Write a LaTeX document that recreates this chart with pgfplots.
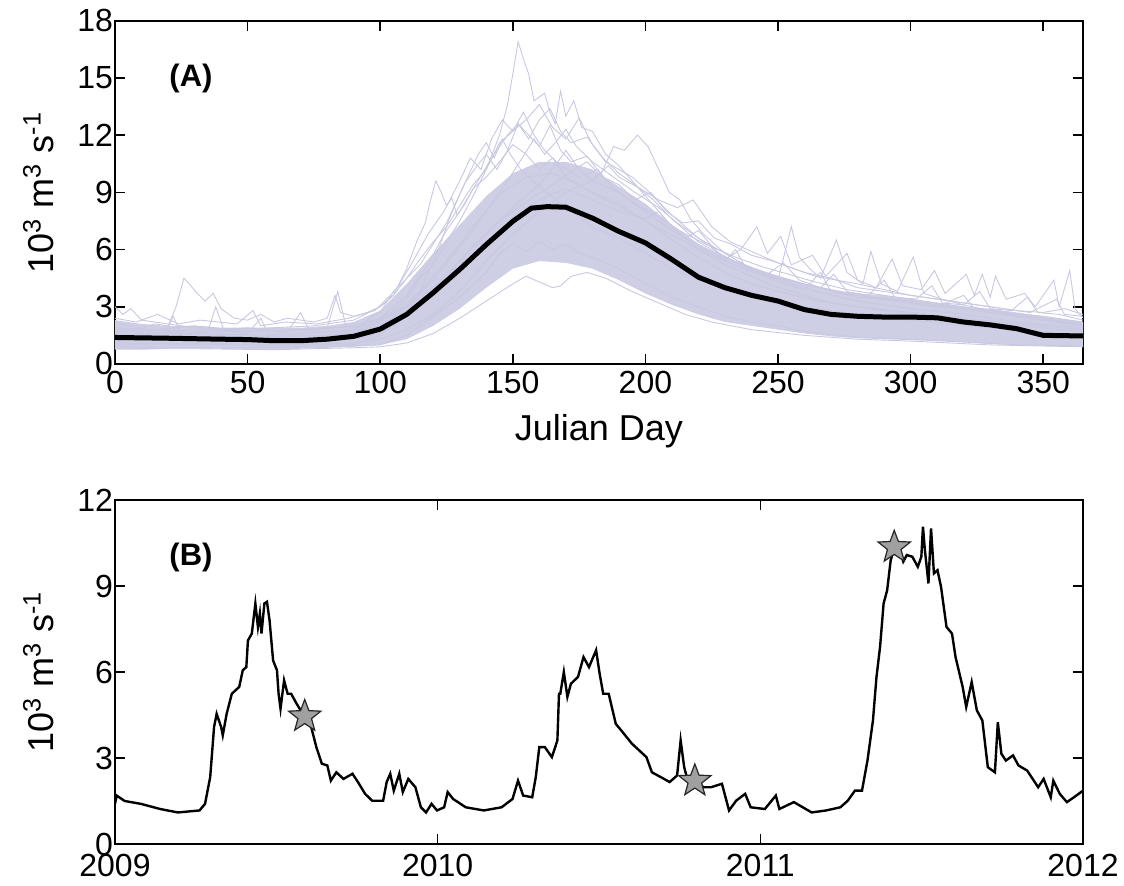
\documentclass[border=0pt]{standalone}
\usepackage{pgfplots}
\pgfplotsset{compat=1.18}
\usepackage{fontspec}
\setmainfont{Liberation Sans}
\definecolor{lav}{RGB}{200,200,226}
\definecolor{lavfill}{RGB}{206,206,229}
\definecolor{stargray}{RGB}{160,160,160}
\newcommand{\tfont}{\fontsize{16}{19}\selectfont}
\newcommand{\lfont}{\fontsize{18}{21}\selectfont}
\pgfdeclareplotmark{fstar}{%
  \pgfpathmoveto{\pgfpointpolar{90}{\pgfplotmarksize}}%
  \pgfpathlineto{\pgfpointpolar{126}{0.42\pgfplotmarksize}}%
  \pgfpathlineto{\pgfpointpolar{162}{\pgfplotmarksize}}%
  \pgfpathlineto{\pgfpointpolar{198}{0.42\pgfplotmarksize}}%
  \pgfpathlineto{\pgfpointpolar{234}{\pgfplotmarksize}}%
  \pgfpathlineto{\pgfpointpolar{270}{0.42\pgfplotmarksize}}%
  \pgfpathlineto{\pgfpointpolar{306}{\pgfplotmarksize}}%
  \pgfpathlineto{\pgfpointpolar{342}{0.42\pgfplotmarksize}}%
  \pgfpathlineto{\pgfpointpolar{18}{\pgfplotmarksize}}%
  \pgfpathlineto{\pgfpointpolar{54}{0.42\pgfplotmarksize}}%
  \pgfpathclose
  \pgfusepathqfillstroke}
\pgfplotsset{
  mystyle/.style={
    scale only axis,
    width=484pt,
    /pgf/number format/assume math mode=true,
    tick label style={font=\tfont},
    label style={font=\lfont},
    axis line style={line width=0.9pt},
    major tick length=5pt,
    tick style={line width=0.8pt,black},
    yticklabel style={xshift=2.5pt},
    ylabel style={at={(axis description cs:-0.064,0.5)},rotate=0,anchor=base},
  },
  lavline/.style={lav,line width=0.45pt,no markers},
}
\begin{document}
\begin{tikzpicture}
\useasboundingbox (0,0) rectangle (562pt,443pt);
% ---------------- Panel A ----------------
\begin{axis}[mystyle,
  at={(57.5pt,261pt)},anchor=south west,
  height=171.65pt,
  xmin=0,xmax=365,ymin=0,ymax=18,
  xtick={0,50,100,150,200,250,300,350},
  ytick={0,3,6,9,12,15,18},
  xlabel={Julian Day},
  xlabel style={at={(axis description cs:0.5,-0.224)},anchor=base},
  ylabel={10\textsuperscript{3} m\textsuperscript{3} s\textsuperscript{-1}},
]
% dense ensemble band
\addplot[draw=none,fill=lavfill] coordinates {
(0,0.75)(10,0.75)(20,0.8)(30,0.8)(40,0.8)(50,0.75)(60,0.75)(70,0.8)(80,0.85)(90,0.9)
(100,1.0)(110,1.3)(120,2.0)(130,2.9)(140,4.0)(150,5.0)(160,5.4)(170,5.3)(180,5.0)(190,4.4)
(200,3.7)(210,3.1)(220,2.6)(230,2.2)(240,2.0)(250,1.8)(260,1.6)(270,1.45)(280,1.35)(290,1.3)
(300,1.25)(310,1.2)(320,1.15)(330,1.05)(340,1.0)(350,0.95)(365,0.9)
(365,2.2)(350,2.5)(340,2.7)(330,2.9)(320,3.0)(310,3.2)(300,3.4)(290,3.6)(280,3.7)(270,3.9)
(260,4.2)(250,4.6)(240,5.1)(230,5.6)(220,6.3)(210,7.3)(200,8.4)(190,9.3)(180,10.2)(170,10.6)
(160,10.6)(150,10.0)(140,8.8)(130,7.3)(120,5.8)(110,4.2)(100,2.8)(90,2.2)(80,2.0)(70,1.9)
(60,1.9)(50,1.9)(40,1.9)(30,2.0)(20,2.0)(10,2.1)(0,2.3)} \closedcycle;
% individual years
\addplot[lavline] coordinates {(0,1.6)(10,1.5)(20,1.7)(30,1.4)(40,1.5)(50,1.3)(60,1.4)(70,1.3)(80,1.5)(90,1.6)(100,2.2)(105,2.8)(110,3.4)(115,4.5)(120,5.2)(125,6.4)(130,7.5)(135,8.8)(140,10.2)(145,12.0)(148,13.6)(150,15.2)(152,16.9)(154,16.0)(156,15.2)(158,13.8)(160,14.0)(162,14.2)(164,13.2)(166,12.6)(168,14.3)(170,13.0)(173,13.8)(176,12.4)(180,12.2)(185,11.0)(190,10.4)(195,9.6)(200,8.8)(210,7.2)(220,6.0)(230,5.2)(240,4.6)(250,4.0)(260,3.6)(270,3.2)(280,3.0)(300,2.7)(320,2.4)(340,2.1)(365,1.8)};
\addplot[lavline] coordinates {(0,1.9)(15,1.8)(30,2.0)(45,1.8)(60,1.9)(75,2.0)(90,2.3)(100,3.0)(105,3.6)(110,5.0)(114,6.5)(117,7.4)(119,8.6)(121,9.6)(123,9.0)(125,8.3)(127,8.7)(129,7.8)(132,8.4)(135,9.2)(140,9.8)(145,10.6)(150,11.5)(155,11.0)(160,10.2)(165,10.8)(170,9.8)(180,9.0)(190,8.4)(200,7.5)(210,6.5)(220,5.6)(230,4.8)(240,4.2)(250,3.8)(265,3.3)(280,3.0)(300,2.6)(320,2.3)(340,2.0)(365,1.7)};
\addplot[lavline] coordinates {(0,2.2)(5,2.0)(10,1.9)(15,2.1)(20,2.0)(23,3.0)(26,4.5)(28,4.2)(31,3.7)(34,3.3)(37,3.7)(40,2.9)(45,2.4)(50,2.3)(55,2.6)(60,2.2)(65,2.4)(70,2.3)(75,2.2)(80,2.4)(83,3.6)(85,2.7)(90,2.5)(95,2.7)(100,3.0)(105,3.6)(110,4.5)(115,5.5)(120,6.4)(125,7.2)(130,8.3)(135,9.4)(140,10.2)(145,11.6)(150,12.2)(155,12.8)(160,13.6)(165,12.4)(170,11.8)(175,12.9)(180,11.5)(185,10.6)(190,10.2)(195,9.8)(200,9.2)(210,7.8)(220,6.6)(230,5.8)(240,5.0)(250,4.6)(260,4.2)(270,3.9)(280,3.6)(300,3.3)(320,2.9)(340,2.5)(365,2.1)};
\addplot[lavline] coordinates {(0,1.2)(20,1.3)(40,1.2)(60,1.1)(80,1.2)(95,1.4)(105,2.0)(115,3.2)(125,4.5)(135,6.2)(145,7.5)(155,8.5)(165,9.4)(172,10.1)(178,10.6)(183,9.9)(188,11.4)(192,11.2)(197,12.0)(201,11.4)(205,10.2)(209,9.0)(213,8.6)(217,7.6)(222,6.8)(230,5.8)(240,5.0)(250,4.4)(255,7.2)(258,5.6)(262,5.0)(266,4.5)(272,6.5)(276,4.8)(282,4.2)(285,5.9)(289,4.2)(295,3.8)(301,5.6)(305,3.7)(312,3.4)(320,3.1)(330,2.8)(340,2.5)(350,2.3)(365,2.0)};
\addplot[lavline] coordinates {(0,1.0)(30,1.1)(60,1.0)(90,1.1)(100,1.3)(110,1.8)(120,2.6)(130,3.8)(140,5.4)(150,6.8)(160,8.0)(170,9.0)(180,9.6)(190,9.0)(200,8.0)(210,7.0)(220,6.2)(230,5.5)(236,6.0)(242,7.2)(246,5.8)(251,6.7)(255,5.2)(263,5.7)(268,4.6)(276,5.8)(280,4.4)(287,4.0)(293,5.5)(297,4.1)(304,3.9)(309,4.9)(313,3.7)(321,4.7)(324,3.6)(327,4.7)(330,3.5)(332,4.6)(336,3.4)(343,3.7)(347,3.0)(354,4.4)(356,3.0)(360,4.9)(362,2.9)(365,2.4)};
\addplot[lavline] coordinates {(0,0.8)(30,0.8)(60,0.75)(90,0.85)(100,0.9)(110,1.1)(120,1.6)(130,2.4)(140,3.3)(150,4.2)(155,4.6)(160,4.3)(165,4.0)(168,4.1)(172,4.6)(178,4.8)(185,4.5)(195,3.8)(205,3.2)(215,2.6)(225,2.2)(240,1.8)(260,1.5)(280,1.3)(300,1.2)(330,1.0)(365,0.9)};
\addplot[lavline] coordinates {(0,1.4)(10,1.6)(18,1.3)(22,2.5)(25,1.5)(35,1.7)(38,3.0)(41,1.8)(50,1.6)(55,2.4)(58,1.5)(65,1.7)(70,2.7)(73,1.8)(80,1.9)(84,3.8)(87,2.0)(92,1.9)(96,2.4)(100,2.7)(105,3.8)(110,4.5)(115,5.2)(120,6.3)(125,7.4)(128,8.3)(132,9.5)(136,10.3)(140,11.0)(144,10.2)(148,11.2)(152,12.6)(156,12.0)(160,11.4)(164,12.5)(168,11.2)(172,10.6)(178,10.9)(184,9.8)(190,9.4)(196,8.6)(202,9.0)(208,8.0)(214,7.4)(220,7.5)(226,6.6)(232,6.3)(240,5.7)(248,5.4)(256,5.0)(264,4.6)(272,4.4)(280,4.2)(290,3.9)(300,3.6)(310,3.4)(320,3.2)(330,3.0)(340,2.8)(350,2.7)(358,2.9)(365,2.6)};
\addplot[lavline] coordinates {(0,1.1)(50,1.0)(90,1.0)(100,1.5)(108,2.4)(114,3.5)(118,4.8)(122,6.0)(126,7.6)(130,8.9)(134,10.1)(137,11.0)(140,11.6)(143,10.8)(146,11.8)(149,11.0)(153,10.2)(158,9.5)(163,9.0)(170,8.2)(180,7.2)(190,6.6)(200,5.8)(210,5.0)(220,4.4)(230,4.0)(245,3.5)(260,3.0)(280,2.6)(300,2.3)(320,2.0)(340,1.8)(365,1.5)};
\addplot[lavline] coordinates {(0,3.0)(3,2.6)(6,2.9)(10,2.3)(15,2.2)(20,2.1)(30,1.9)(40,1.8)(50,1.9)(60,1.7)(75,1.8)(90,2.0)(100,2.4)(110,3.0)(120,4.0)(130,5.4)(140,6.8)(150,8.2)(160,9.4)(166,10.4)(170,11.2)(175,10.2)(180,9.6)(186,10.4)(190,9.8)(198,9.2)(205,8.6)(212,8.2)(218,8.6)(225,7.2)(232,6.4)(240,5.9)(250,5.3)(260,4.8)(270,4.5)(280,4.0)(290,3.8)(300,3.6)(315,3.3)(330,3.0)(345,2.7)(355,3.4)(358,2.6)(365,2.5)};
\addplot[lavline] coordinates {(0,0.9)(40,0.85)(80,0.9)(100,1.0)(110,1.5)(120,2.5)(130,3.5)(140,4.8)(145,5.8)(150,6.3)(155,5.9)(160,6.4)(165,6.0)(170,6.3)(175,5.8)(180,5.6)(190,5.0)(200,4.2)(210,3.5)(220,3.0)(230,2.5)(240,2.2)(250,2.0)(260,1.7)(280,1.4)(300,1.3)(320,1.15)(340,1.0)(365,0.95)};
\addplot[lavline] coordinates {(0,1.5)(40,1.4)(80,1.5)(100,2.0)(110,2.8)(120,3.8)(130,5.0)(140,6.4)(150,7.6)(160,8.6)(170,9.2)(180,8.6)(190,8.0)(200,7.6)(205,8.0)(210,7.2)(215,6.6)(220,7.0)(225,6.2)(230,5.4)(234,6.0)(238,5.0)(245,4.6)(250,4.3)(260,3.9)(266,4.8)(270,3.8)(280,3.5)(290,3.4)(300,3.2)(310,3.0)(320,3.6)(324,2.9)(330,2.8)(340,2.6)(350,2.4)(365,2.1)};
\addplot[lavline] coordinates {(0,1.7)(30,1.6)(60,1.5)(90,1.8)(100,2.4)(110,3.6)(118,5.2)(124,6.8)(130,8.0)(136,9.4)(142,10.8)(148,12.0)(152,12.6)(156,11.8)(160,12.8)(164,13.4)(168,12.2)(172,11.6)(178,11.9)(184,10.8)(190,10.0)(196,9.4)(203,8.6)(210,7.6)(220,6.4)(230,5.6)(240,5.0)(250,4.5)(262,4.1)(275,3.7)(290,3.4)(305,3.1)(320,2.9)(335,2.6)(350,2.3)(365,2.0)};
\addplot[lavline] coordinates {(0,1.3)(40,1.2)(80,1.3)(100,1.9)(110,3.0)(120,4.4)(128,5.8)(135,7.0)(142,8.4)(148,9.6)(154,10.9)(158,11.8)(162,11.0)(166,11.6)(170,12.3)(174,11.4)(180,10.6)(188,9.8)(196,9.0)(205,8.2)(212,7.4)(220,6.6)(228,5.8)(236,5.2)(245,4.7)(255,4.2)(265,3.8)(280,3.3)(300,2.9)(320,2.6)(340,2.2)(365,1.9)};
\addplot[lavline] coordinates {(0,1.8)(50,1.7)(95,2.0)(105,2.6)(115,3.8)(125,5.4)(135,7.2)(145,8.9)(155,9.8)(165,10.0)(175,9.4)(185,8.6)(195,7.9)(205,7.1)(215,6.4)(225,5.7)(235,5.1)(245,4.6)(252,5.3)(258,4.4)(266,4.0)(271,4.7)(276,3.8)(284,3.6)(290,4.4)(294,3.5)(302,3.4)(308,4.1)(312,3.2)(320,3.1)(326,3.8)(330,2.9)(338,2.8)(344,3.5)(348,2.7)(356,2.6)(365,2.3)};
\addplot[lavline] coordinates {(0,2.4)(8,2.2)(16,2.6)(24,2.1)(32,2.3)(46,2.1)(52,2.8)(55,2.0)(64,2.2)(76,2.1)(88,2.4)(98,2.8)(106,3.9)(112,5.3)(118,6.8)(124,8.0)(130,9.6)(134,10.8)(138,10.2)(142,11.8)(146,12.8)(150,12.2)(154,13.2)(158,12.0)(162,11.2)(168,10.4)(175,9.8)(182,10.2)(188,9.2)(196,8.4)(204,7.8)(214,6.9)(224,6.2)(234,5.6)(244,5.1)(254,4.7)(264,4.3)(276,3.9)(290,3.6)(305,3.3)(320,3.0)(335,2.7)(350,2.5)(365,2.2)};
% mean
\addplot[black,line width=2.5pt,no markers] coordinates {(0,1.39)(20,1.35)(40,1.3)(50,1.28)(60,1.22)(70,1.22)(80,1.3)(90,1.45)(100,1.83)(110,2.6)(120,3.74)(130,4.96)(140,6.26)(150,7.48)(157,8.17)(163,8.25)(170,8.22)(180,7.65)(190,6.95)(200,6.35)(210,5.48)(220,4.55)(230,4.0)(240,3.6)(250,3.3)(260,2.85)(270,2.6)(280,2.5)(290,2.46)(300,2.46)(310,2.42)(320,2.2)(330,2.05)(340,1.85)(350,1.5)(365,1.47)};
\node[font=\fontsize{15.5}{18}\selectfont\bfseries] at (axis description cs:0.0785,0.832) {(A)};
\end{axis}
% ---------------- Panel B ----------------
\begin{axis}[mystyle,
  at={(57.5pt,21pt)},anchor=south west,
  height=172pt,
  xmin=2009,xmax=2012,ymin=0,ymax=12,
  xtick={2009,2010,2011,2012},
  xticklabels={2009,2010,2011,2012},
  xticklabel style={yshift=-1.5pt},
  ytick={0,3,6,9,12},
  ylabel={10\textsuperscript{3} m\textsuperscript{3} s\textsuperscript{-1}},
]
\addplot[black,line width=1.2pt,no markers] coordinates {
(2009.0,1.4)(2009.005,1.69)(2009.03,1.5)(2009.08,1.4)(2009.14,1.22)(2009.195,1.1)(2009.262,1.17)(2009.279,1.4)
(2009.295,2.33)(2009.307,4.08)(2009.315,4.54)(2009.329,4.08)(2009.334,3.79)(2009.346,4.54)(2009.362,5.24)
(2009.385,5.48)(2009.396,6.06)(2009.407,6.17)(2009.412,7.1)(2009.424,7.34)(2009.435,8.39)(2009.443,7.57)
(2009.449,8.04)(2009.454,7.34)(2009.463,8.39)(2009.471,8.45)(2009.479,7.8)(2009.49,6.4)(2009.502,6.06)
(2009.507,5.24)(2009.513,4.72)(2009.524,5.71)(2009.535,5.24)(2009.546,5.24)(2009.563,4.89)(2009.585,4.49)
(2009.608,4.08)(2009.624,3.38)(2009.641,2.8)(2009.658,2.74)(2009.669,2.21)(2009.686,2.5)(2009.708,2.27)
(2009.736,2.45)(2009.753,2.16)(2009.775,1.75)(2009.797,1.51)(2009.831,1.51)(2009.842,2.16)(2009.853,2.45)
(2009.864,1.86)(2009.881,2.45)(2009.892,1.81)(2009.909,2.27)(2009.931,1.98)(2009.948,1.28)(2009.964,1.1)
(2009.981,1.4)(2009.998,1.17)(2010.02,1.28)(2010.031,1.81)(2010.048,1.57)(2010.087,1.28)(2010.143,1.17)
(2010.198,1.28)(2010.232,1.57)(2010.249,2.21)(2010.265,1.69)(2010.293,1.63)(2010.304,2.33)(2010.315,3.38)
(2010.332,3.38)(2010.354,3.03)(2010.371,3.61)(2010.376,5.24)(2010.380,5.24)(2010.391,6.0)(2010.402,5.13)
(2010.413,5.59)(2010.435,5.83)(2010.452,6.52)(2010.469,6.17)(2010.491,6.76)(2010.502,5.94)(2010.513,5.24)
(2010.53,5.24)(2010.552,4.19)(2010.569,3.96)(2010.602,3.5)(2010.647,3.03)(2010.664,2.5)(2010.692,2.33)
(2010.719,2.16)(2010.742,2.39)(2010.753,3.61)(2010.764,2.68)(2010.775,2.21)(2010.797,2.16)(2010.825,1.98)
(2010.847,1.98)(2010.881,2.1)(2010.903,1.17)(2010.925,1.51)(2010.953,1.75)(2010.97,1.28)(2011.014,1.22)
(2011.048,1.69)(2011.059,1.22)(2011.104,1.46)(2011.159,1.1)(2011.204,1.17)(2011.248,1.28)(2011.271,1.51)
(2011.293,1.86)(2011.315,1.86)(2011.332,2.91)(2011.349,4.31)(2011.36,5.83)(2011.371,6.87)(2011.382,8.39)
(2011.393,8.85)(2011.404,9.9)(2011.415,10.31)(2011.432,10.25)(2011.443,9.85)(2011.454,10.08)(2011.471,10.02)
(2011.488,9.67)(2011.499,10.02)(2011.504,11.07)(2011.51,10.25)(2011.521,9.09)(2011.529,11.01)(2011.538,9.44)
(2011.549,9.55)(2011.56,8.97)(2011.577,7.57)(2011.594,7.34)(2011.605,6.52)(2011.627,5.48)(2011.638,4.78)
(2011.655,5.65)(2011.671,4.66)(2011.688,4.31)(2011.705,2.68)(2011.727,2.5)(2011.736,4.25)(2011.747,3.15)
(2011.761,2.91)(2011.783,3.09)(2011.8,2.74)(2011.827,2.56)(2011.861,1.98)(2011.878,2.27)(2011.9,1.63)
(2011.908,2.21)(2011.928,1.75)(2011.95,1.46)(2011.972,1.63)(2012.0,1.86)};
\addplot[only marks,mark=fstar,mark size=8.5pt,mark options={fill=stargray,draw=black!85,line width=0.6pt}] coordinates {(2009.588,4.45)(2010.797,2.2)(2011.415,10.35)};
\node[font=\fontsize{15.5}{18}\selectfont\bfseries] at (axis description cs:0.0785,0.833) {(B)};
\end{axis}
\end{tikzpicture}
\end{document}
